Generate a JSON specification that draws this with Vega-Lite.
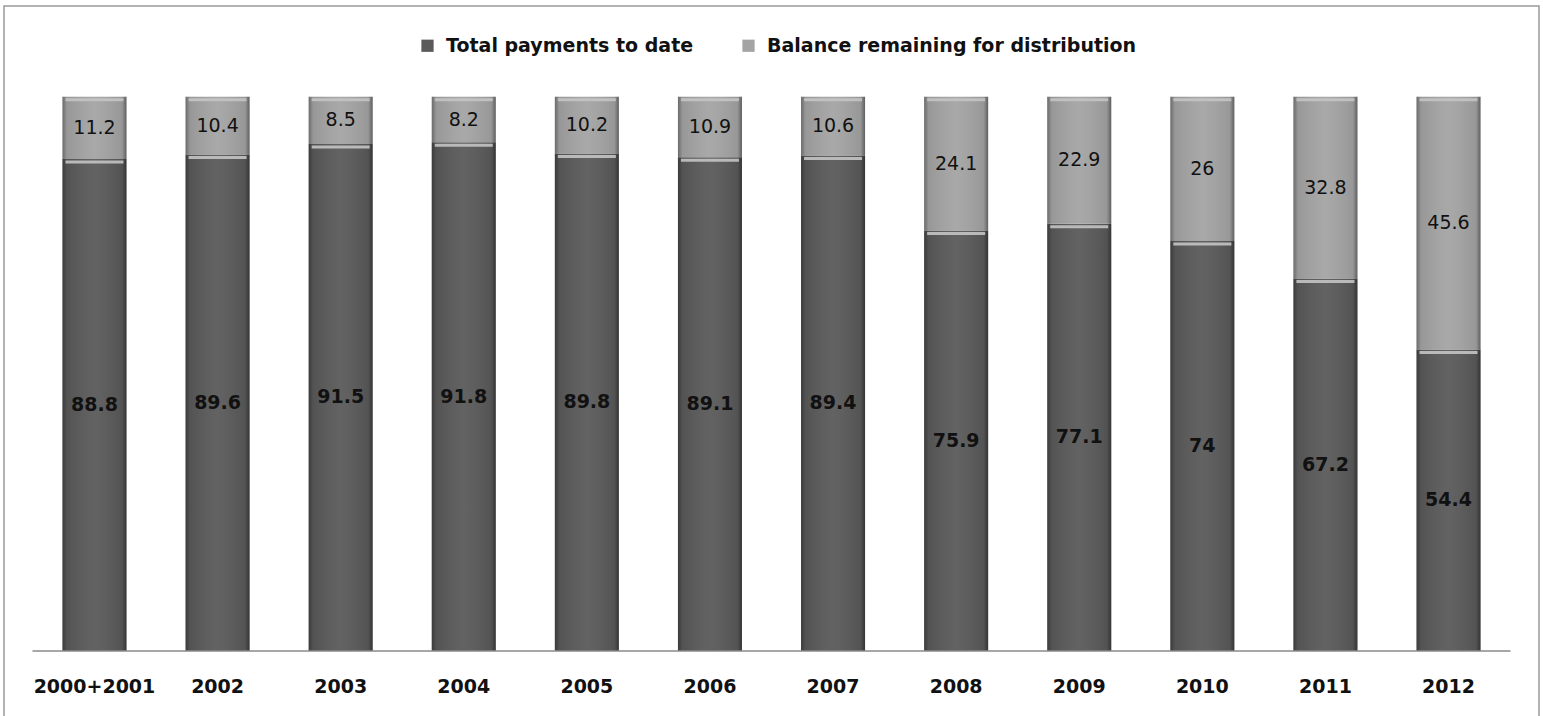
{
  "$schema": "https://vega.github.io/schema/vega-lite/v6.json",
  "width": 1535,
  "height": 712,
  "autosize": {"type": "none"},
  "padding": {"left": 4, "top": 6, "right": 4, "bottom": 0},
  "background": "white",
  "config": {
    "view": {"stroke": "#9a9a9a", "strokeWidth": 1.5},
    "font": "DejaVu Sans"
  },
  "data": {
    "values": [
      {"year": "2000+2001", "series": "Total payments to date", "value": 88.8},
      {"year": "2000+2001", "series": "Balance remaining for distribution", "value": 11.2},
      {"year": "2002", "series": "Total payments to date", "value": 89.6},
      {"year": "2002", "series": "Balance remaining for distribution", "value": 10.4},
      {"year": "2003", "series": "Total payments to date", "value": 91.5},
      {"year": "2003", "series": "Balance remaining for distribution", "value": 8.5},
      {"year": "2004", "series": "Total payments to date", "value": 91.8},
      {"year": "2004", "series": "Balance remaining for distribution", "value": 8.2},
      {"year": "2005", "series": "Total payments to date", "value": 89.8},
      {"year": "2005", "series": "Balance remaining for distribution", "value": 10.2},
      {"year": "2006", "series": "Total payments to date", "value": 89.1},
      {"year": "2006", "series": "Balance remaining for distribution", "value": 10.9},
      {"year": "2007", "series": "Total payments to date", "value": 89.4},
      {"year": "2007", "series": "Balance remaining for distribution", "value": 10.6},
      {"year": "2008", "series": "Total payments to date", "value": 75.9},
      {"year": "2008", "series": "Balance remaining for distribution", "value": 24.1},
      {"year": "2009", "series": "Total payments to date", "value": 77.1},
      {"year": "2009", "series": "Balance remaining for distribution", "value": 22.9},
      {"year": "2010", "series": "Total payments to date", "value": 74},
      {"year": "2010", "series": "Balance remaining for distribution", "value": 26},
      {"year": "2011", "series": "Total payments to date", "value": 67.2},
      {"year": "2011", "series": "Balance remaining for distribution", "value": 32.8},
      {"year": "2012", "series": "Total payments to date", "value": 54.4},
      {"year": "2012", "series": "Balance remaining for distribution", "value": 45.6}
    ]
  },
  "layer": [
    {
      "encoding": {
        "x": {
          "field": "year",
          "type": "nominal",
          "sort": null,
          "scale": {"paddingInner": 0.48, "paddingOuter": 0.475},
          "axis": {
            "title": null,
            "orient": "bottom",
            "offset": -67,
            "ticks": false,
            "domain": false,
            "labelAngle": 0,
            "labelFont": "DejaVu Sans",
            "labelFontWeight": "bold",
            "labelFontSize": 19,
            "labelColor": "#111111",
            "labelPadding": 26
          }
        },
        "y": {
          "field": "value",
          "type": "quantitative",
          "stack": "zero",
          "scale": {"domain": [-12.1, 116.4], "nice": false, "zero": false},
          "axis": null
        },
        "order": {"field": "series", "sort": "descending"},
        "detail": {"field": "series"}
      },
      "layer": [
        {
          "mark": {"type": "bar"},
          "encoding": {
            "color": {
              "field": "series",
              "type": "nominal",
              "scale": {
                "domain": ["Total payments to date", "Balance remaining for distribution"],
                "range": ["#5a5a5a", "#a4a4a4"]
              },
              "legend": {
                "title": null,
                "orient": "none",
                "legendX": 414,
                "legendY": 30,
                "direction": "horizontal",
                "symbolType": "square",
                "symbolSize": 150,
                "symbolStrokeWidth": 0,
                "labelFont": "DejaVu Sans",
                "labelFontWeight": "bold",
                "labelFontSize": 19,
                "labelColor": "#111111",
                "labelLimit": 500,
                "labelOffset": 9,
                "columnPadding": 45
              }
            }
          }
        },
        {
          "mark": {
            "type": "bar",
            "color": {
              "gradient": "linear",
              "x1": 0, "x2": 1, "y1": 0, "y2": 0,
              "stops": [
                {"offset": 0, "color": "rgba(0,0,0,0.35)"},
                {"offset": 0.07, "color": "rgba(0,0,0,0.08)"},
                {"offset": 0.5, "color": "rgba(255,255,255,0.05)"},
                {"offset": 0.93, "color": "rgba(0,0,0,0.08)"},
                {"offset": 1, "color": "rgba(0,0,0,0.42)"}
              ]
            }
          }
        },
        {
          "mark": {"type": "tick", "color": "#c4c4c4", "thickness": 3, "size": 58, "yOffset": 3, "opacity": 0.9}
        },
        {
          "mark": {"type": "text", "font": "DejaVu Sans", "fontWeight": "bold", "fontSize": 19, "color": "#111111", "baseline": "middle"},
          "encoding": {
            "y": {"field": "value", "type": "quantitative", "stack": "zero", "bandPosition": 0.5},
            "text": {"field": "value", "type": "quantitative"},
            "opacity": {
              "condition": {"test": "datum.series === 'Total payments to date'", "value": 1},
              "value": 0
            }
          }
        },
        {
          "mark": {"type": "text", "font": "DejaVu Sans", "fontWeight": "normal", "fontSize": 19, "color": "#111111", "baseline": "middle"},
          "encoding": {
            "y": {"field": "value", "type": "quantitative", "stack": "zero", "bandPosition": 0.5},
            "text": {"field": "value", "type": "quantitative"},
            "opacity": {
              "condition": {"test": "datum.series === 'Total payments to date'", "value": 0},
              "value": 1
            }
          }
        }
      ]
    },
    {
      "data": {"values": [{"baseline": 0, "first": "2000+2001", "last": "2012"}]},
      "mark": {"type": "rule", "color": "#8a8a8a", "strokeWidth": 1.5, "xOffset": -30, "x2Offset": 30},
      "encoding": {
        "x": {"field": "first", "type": "nominal", "bandPosition": 0},
        "x2": {"field": "last", "bandPosition": 1},
        "y": {"field": "baseline", "type": "quantitative"}
      }
    }
  ]
}
